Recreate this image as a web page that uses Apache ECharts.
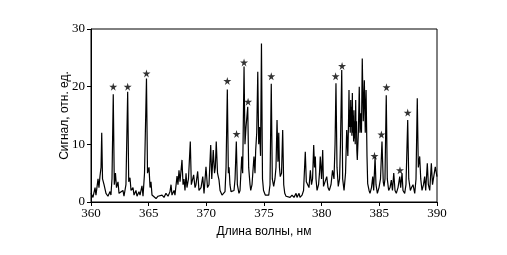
<!DOCTYPE html>
<html>
<head>
<meta charset="utf-8">
<script src="https://cdn.jsdelivr.net/npm/echarts@6/dist/echarts.min.js"></script>
<style>
  html, body { margin: 0; padding: 0; background: #fff; }
  #main { width: 507px; height: 255px; }
</style>
</head>
<body>
<div id="main"></div>
<script>
// wavelength (nm) and signal
var wavelength = [
  360.00, 360.17, 360.35, 360.43, 360.61, 360.69, 360.78, 360.87, 360.93, 361.00,
  361.13, 361.30, 361.47, 361.65, 361.73, 361.82, 361.93, 362.02, 362.12, 362.21,
  362.34, 362.43, 362.60, 362.77, 362.86, 363.03, 363.18, 363.27, 363.38, 363.47,
  363.64, 363.73, 363.90, 363.99, 364.16, 364.25, 364.42, 364.51, 364.64, 364.81,
  364.90, 365.03, 365.12, 365.20, 365.29, 365.46, 365.64, 365.81, 365.98, 366.16,
  366.33, 366.50, 366.68, 366.85, 366.94, 367.02, 367.20, 367.28, 367.46, 367.54,
  367.63, 367.72, 367.89, 367.98, 368.06, 368.15, 368.24, 368.32, 368.45, 368.61,
  368.70, 368.90, 369.02, 369.10, 369.25, 369.36, 369.54, 369.69, 369.80, 369.97,
  370.10, 370.23, 370.38, 370.47, 370.60, 370.71, 370.78, 370.86, 370.97, 371.10,
  371.19, 371.36, 371.53, 371.62, 371.71, 371.82, 371.91, 371.97, 372.05, 372.14,
  372.25, 372.40, 372.49, 372.60, 372.69, 372.83, 372.92, 373.07, 373.15, 373.27,
  373.35, 373.44, 373.59, 373.67, 373.79, 373.85, 373.96, 374.13, 374.22, 374.28,
  374.37, 374.46, 374.54, 374.61, 374.70, 374.78, 374.87, 374.96, 375.11, 375.26,
  375.41, 375.52, 375.63, 375.72, 375.84, 375.95, 376.04, 376.13, 376.21, 376.28,
  376.34, 376.41, 376.52, 376.62, 376.71, 376.80, 376.91, 377.08, 377.26, 377.43,
  377.60, 377.78, 377.86, 378.04, 378.12, 378.30, 378.43, 378.58, 378.67, 378.79,
  378.90, 379.02, 379.12, 379.21, 379.31, 379.38, 379.45, 379.51, 379.60, 379.73,
  379.81, 379.88, 379.99, 380.09, 380.16, 380.29, 380.44, 380.55, 380.66, 380.81,
  380.94, 381.07, 381.16, 381.24, 381.33, 381.44, 381.55, 381.63, 381.74, 381.82,
  381.94, 382.07, 382.17, 382.27,
  382.33, 382.37, 382.41, 382.44, 382.48, 382.52, 382.55, 382.59, 382.62, 382.66,
  382.70, 382.73, 382.77, 382.80, 382.84, 382.87, 382.91, 382.95, 382.98, 383.02,
  383.05, 383.09, 383.18, 383.26, 383.32, 383.39, 383.45,
  383.52, 383.61, 383.70, 383.78, 383.85, 383.93, 383.99, 384.11, 384.19, 384.32,
  384.43, 384.51, 384.63, 384.71, 384.83, 384.97, 385.10, 385.23, 385.34, 385.41,
  385.49, 385.60, 385.69, 385.81, 385.93, 386.04, 386.14, 386.25, 386.36, 386.47,
  386.62, 386.77, 386.85, 386.97, 387.05, 387.20, 387.31, 387.46, 387.55, 387.69,
  387.79, 387.92, 388.07, 388.18, 388.29, 388.38, 388.50, 388.59, 388.70, 388.83,
  388.93, 389.02, 389.16, 389.25, 389.37, 389.51, 389.61, 389.71, 389.85, 390.00
];
var signal = [
  1.5, 0.8, 2.5, 1.2, 4.0, 2.5, 4.5, 6.0, 12.0, 4.0,
  3.0, 1.5, 1.0, 1.8, 1.2, 4.0, 18.7, 3.0, 5.0, 2.5,
  3.5, 1.5, 1.2, 2.0, 1.0, 3.0, 19.1, 3.5, 4.2, 2.0,
  2.5, 1.2, 2.0, 1.0, 1.8, 1.2, 2.8, 1.0, 5.0, 21.4,
  5.0, 6.0, 2.5, 3.5, 1.2, 1.0, 0.6, 1.0, 0.8, 1.2,
  0.8, 1.5, 1.0, 1.8, 3.0, 1.2, 2.0, 1.2, 4.5, 3.0,
  5.5, 3.5, 7.3, 3.0, 4.0, 2.0, 5.0, 2.5, 4.0, 10.5,
  3.0, 4.7, 2.5, 3.0, 5.3, 2.0, 2.5, 4.4, 1.5, 6.1,
  2.5, 3.0, 9.9, 4.0, 9.0, 5.0, 6.0, 10.5, 5.0, 3.8,
  2.0, 1.2, 1.0, 1.8, 6.0, 19.5, 5.0, 6.0, 3.0, 1.8,
  1.5, 2.0, 4.0, 10.5, 3.0, 1.5, 2.0, 7.9, 5.0, 23.5,
  10.0, 13.0, 16.5, 6.0, 3.0, 2.0, 3.0, 7.9, 5.0, 9.0,
  12.0, 22.6, 10.0, 13.0, 8.0, 27.5, 4.0, 2.0, 1.2, 1.5,
  1.2, 3.0, 20.5, 4.0, 2.7, 4.0, 6.0, 14.2, 7.0, 12.0,
  6.0, 4.4, 5.0, 12.5, 3.0, 1.5, 1.0, 1.2, 0.8, 1.2,
  0.8, 1.5, 0.8, 1.5, 0.8, 1.2, 2.0, 8.7, 3.5, 3.8,
  2.5, 5.5, 3.0, 4.0, 9.9, 6.0, 7.9, 4.0, 2.0, 3.0,
  5.0, 7.9, 4.0, 9.0, 2.7, 3.0, 4.4, 2.5, 2.0, 3.0,
  5.5, 4.0, 10.0, 20.6, 6.0, 2.7, 4.0, 10.0, 22.9, 4.0,
  2.0, 5.0, 12.5, 8.0,
  14.0, 19.4, 13.0, 16.0, 12.0, 17.7, 13.0, 16.5, 11.5, 18.9,
  12.0, 15.0, 10.5, 15.9, 11.0, 14.0, 10.0, 17.7, 12.0, 14.0,
  9.0, 7.3, 12.0, 20.0, 12.0, 15.4, 12.0,
  24.9, 14.0, 21.1, 12.0, 19.4, 8.0, 3.2, 2.0, 1.5, 2.5,
  4.4, 2.0, 7.8, 3.0, 1.5, 2.5, 4.0, 10.5, 3.5, 2.7,
  4.0, 18.5, 4.0, 2.0, 2.5, 3.8, 2.0, 5.0, 2.0, 1.5,
  2.5, 4.4, 2.5, 5.0, 2.0, 1.5, 3.0, 14.2, 4.0, 2.0,
  2.5, 3.0, 1.5, 4.0, 18.0, 6.0, 7.9, 4.0, 2.0, 3.0,
  4.4, 2.0, 6.7, 3.0, 2.0, 6.7, 3.0, 2.7, 6.1, 4.4
];
// marked lines (stars)
var starWavelength = [361.93, 363.18, 364.81, 371.82, 372.62, 373.27, 373.62, 375.63, 381.21, 381.77, 384.58, 385.18, 385.62, 386.79, 387.46];
var starSignal = [20.0, 20.0, 22.3, 21.0, 11.8, 24.2, 17.4, 21.8, 21.8, 23.6, 8.0, 11.7, 19.9, 5.5, 15.5];
var xTicks = [360, 365, 370, 375, 380, 385, 390];
var yTicks = [0, 10, 20, 30];

var lineData = [];
for (var i = 0; i < wavelength.length; i++) {
  lineData.push([wavelength[i], signal[i]]);
}
var starData = [];
for (var j = 0; j < starWavelength.length; j++) {
  starData.push([starWavelength[j], starSignal[j]]);
}

var starPath = 'path://M50,0 L61,35 L98,35 L68,57 L79,91 L50,70 L21,91 L32,57 L2,35 L39,35 Z';

var option = {
  animation: false,
  grid: {
    left: 91, right: 70, top: 29, bottom: 53,
    show: true, borderColor: '#000', borderWidth: 1
  },
  xAxis: {
    type: 'value',
    min: xTicks[0], max: xTicks[xTicks.length - 1], interval: 5,
    name: 'Длина волны, нм',
    nameLocation: 'middle',
    nameGap: 24,
    nameMoveOverlap: false,
    nameTextStyle: { fontFamily: 'Liberation Sans', fontSize: 12, color: '#000' },
    axisLine: { lineStyle: { color: '#000', width: 1 } },
    axisTick: { show: true, length: 4, lineStyle: { color: '#000' } },
    axisLabel: { fontFamily: 'Liberation Serif', fontSize: 13, color: '#000', margin: 5 },
    splitLine: { show: false }
  },
  yAxis: {
    type: 'value',
    min: yTicks[0], max: yTicks[yTicks.length - 1], interval: 10,
    name: 'Сигнал, отн. ед.',
    nameLocation: 'middle',
    nameGap: 20,
    nameMoveOverlap: false,
    nameTextStyle: { fontFamily: 'Liberation Sans', fontSize: 12, color: '#000' },
    axisLine: { show: true, lineStyle: { color: '#000', width: 1 } },
    axisTick: { show: true, length: 4, lineStyle: { color: '#000' } },
    axisLabel: { fontFamily: 'Liberation Serif', fontSize: 13, color: '#000', margin: 6 },
    splitLine: { show: false }
  },
  series: [
    {
      type: 'line',
      data: lineData,
      showSymbol: false,
      symbol: 'none',
      lineStyle: { color: '#000', width: 1.2 }
    },
    {
      type: 'scatter',
      data: starData,
      symbol: starPath,
      symbolSize: 8,
      itemStyle: { color: '#000' }
    }
  ]
};

var myChart = echarts.init(document.getElementById('main'));
myChart.setOption(option);
</script>
</body>
</html>
